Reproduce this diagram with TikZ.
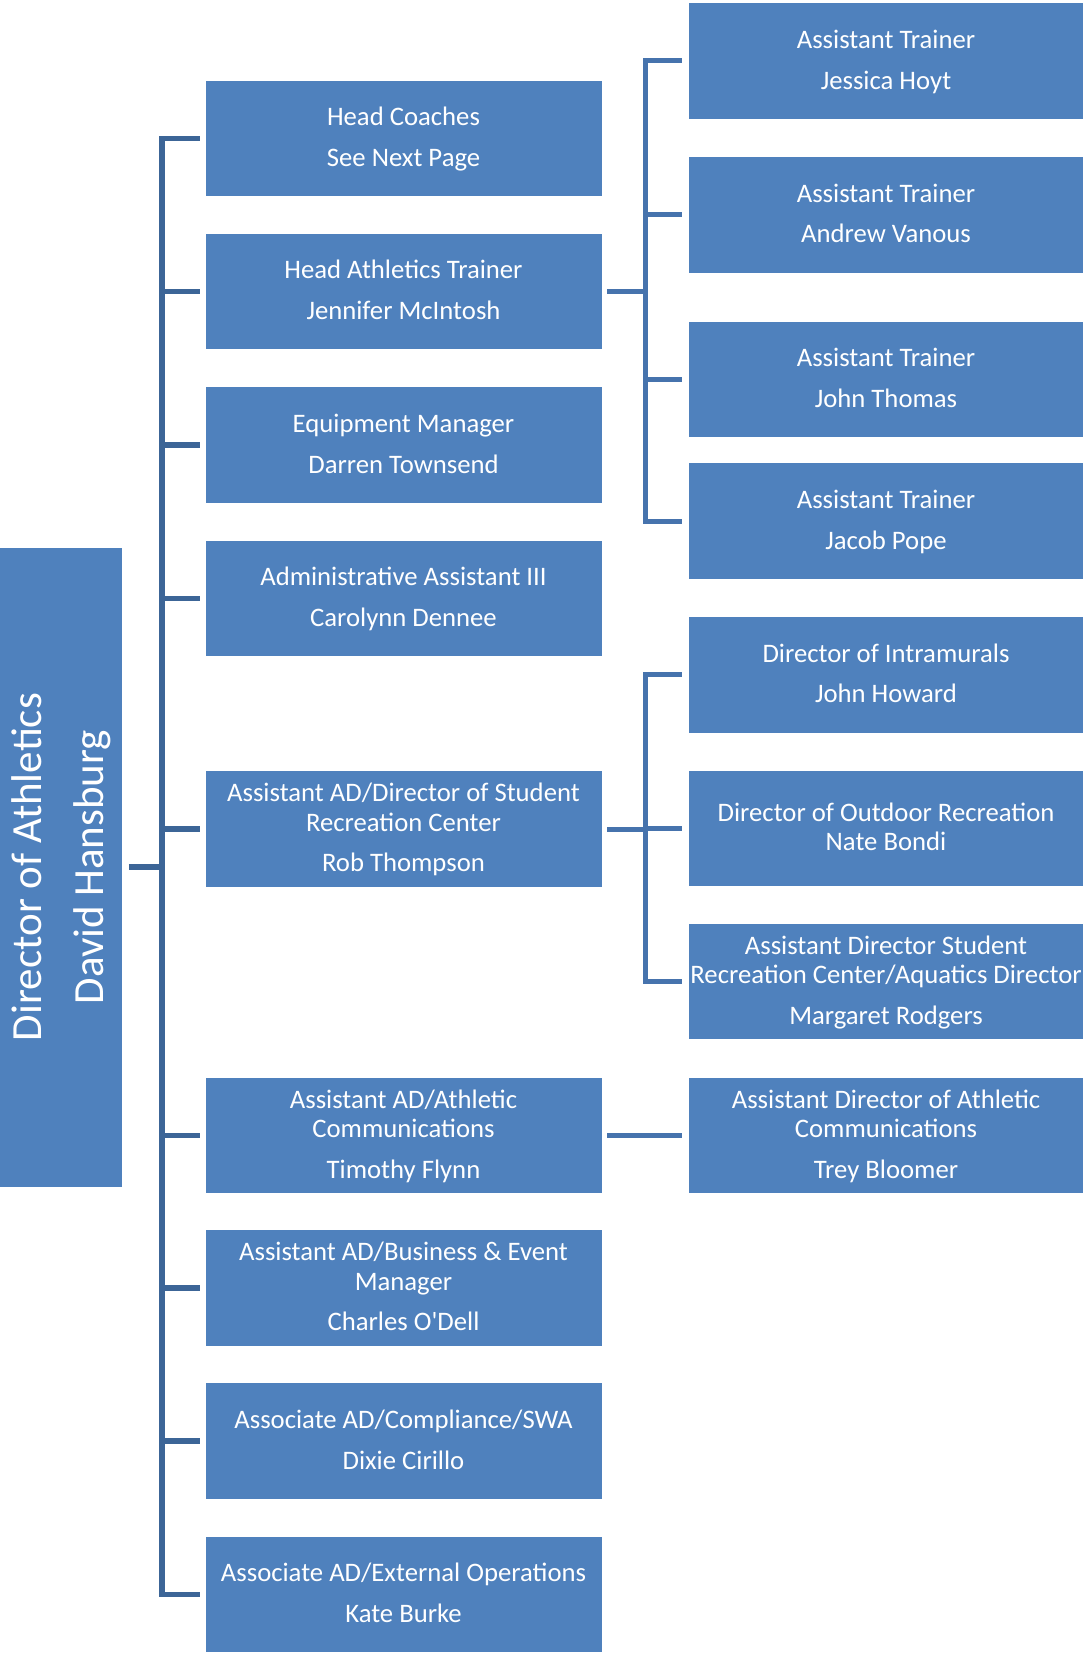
\documentclass[tikz,border=0pt]{standalone}
\usepackage{fontspec}
\setmainfont{Carlito}[Ligatures=TeXOff]
\usepackage{graphicx}
\definecolor{boxblue}{HTML}{4F81BD}
\definecolor{mainln}{HTML}{3C6597}
\definecolor{subln}{HTML}{4673AD}
\newcommand\mystrut{\rule[-4.4pt]{0pt}{24.4pt}}
\newcommand\twoline[2]{\mystrut #1\\[11.4pt]\mystrut #2}
\newcommand\threeline[3]{\mystrut #1\\\mystrut #2\\[11.4pt]\mystrut #3}
\begin{document}
\begin{tikzpicture}[x=1pt,y=-1pt,
  box/.style={rectangle, fill=boxblue, draw=white, line width=0.6pt,
    minimum width=397pt, minimum height=116.5pt, inner sep=0pt,
    align=center, text=white, font=\fontsize{26.7pt}{29.3pt}\selectfont},
  rbox/.style={box, minimum width=396pt},
  mainline/.style={draw=mainln, line width=5.5pt},
  subline/.style={draw=subln, line width=5pt}]
\useasboundingbox (0,0) rectangle (1083,1656);
\fill[white] (0,0) rectangle (1083,1656);

% director
\node[box, minimum width=117pt, minimum height=640pt,
  font=\fontsize{43pt}{62pt}\selectfont] (dir) at (60.5,867)
  {\rotatebox{90}{\begin{tabular}{@{}c@{}}Director of Athletics\\David Hansburg\end{tabular}}};

% column 1
\node[box] (hc)   at (403.5,138.5) {\twoline{Head Coaches}{See Next Page}};
\node[box] (hat)  at (403.5,291.5) {\twoline{Head Athletics Trainer}{Jennifer McIntosh}};
\node[box] (eq)   at (403.5,445)   {\twoline{Equipment Manager}{Darren Townsend}};
\node[box] (adm)  at (403.5,598.5) {\twoline{Administrative Assistant III}{Carolynn Dennee}};
\node[box] (rec)  at (403.5,829)   {\threeline{Assistant AD/Director of Student}{Recreation Center}{Rob Thompson}};
\node[box] (comm) at (403.5,1135.5){\threeline{Assistant AD/Athletic}{Communications}{Timothy Flynn}};
\node[box] (bus)  at (403.5,1288)  {\threeline{Assistant AD/Business \& Event}{Manager}{Charles O'Dell}};
\node[box] (comp) at (403.5,1441)  {\twoline{Associate AD/Compliance/SWA}{Dixie Cirillo}};
\node[box] (ext)  at (403.5,1594.5){\twoline{Associate AD/External Operations}{Kate Burke}};

% column 2
\node[rbox] (jh) at (886,61)    {\twoline{Assistant Trainer}{Jessica Hoyt}};
\node[rbox] (av) at (886,214.8) {\twoline{Assistant Trainer}{Andrew Vanous}};
\node[rbox] (jt) at (886,379.3) {\twoline{Assistant Trainer}{John Thomas}};
\node[rbox] (jp) at (886,521)   {\twoline{Assistant Trainer}{Jacob Pope}};
\node[rbox] (di) at (886,674.7) {\twoline{Director of Intramurals}{John Howard}};
\node[rbox] (or) at (886,828.5) {\mystrut Director of Outdoor Recreation\\\mystrut Nate Bondi};
\node[rbox] (aq) at (886,981.3) {\threeline{Assistant Director Student}{\makebox[396pt][c]{Recreation Center/Aquatics Director}}{Margaret Rodgers}};
\node[rbox] (tb) at (886,1135.5){\threeline{Assistant Director of Athletic}{Communications}{Trey Bloomer}};

% main spine
\coordinate (spine) at (162,867);
\draw[mainline, shorten <=5pt, shorten >=5pt] (hc.west) -| (spine) |- (ext.west);
\foreach \n in {hat,eq,adm,rec,comm,bus,comp}
  \draw[mainline, shorten >=5pt] (spine |- \n.west) -- (\n.west);
\draw[mainline, shorten <=6pt] (dir.east) -- (spine);

% trainers
\coordinate (trs) at (645,291.5);
\draw[subline, shorten <=5pt] (hat.east) -- (trs);
\draw[subline, shorten <=6pt, shorten >=6pt] (jh.west) -| (trs) |- (jp.west);
\foreach \n in {av,jt}
  \draw[subline, shorten >=6pt] (trs |- \n.west) -- (\n.west);

% recreation
\coordinate (rcs) at (645,829);
\draw[subline, shorten <=5pt] (rec.east) -- (rcs);
\draw[subline, shorten <=6pt, shorten >=6pt] (di.west) -| (rcs) |- (aq.west);
\draw[subline, shorten >=6pt] (rcs |- or.west) -- (or.west);

% communications
\draw[subline, shorten <=5pt, shorten >=6pt] (comm.east) -- (tb.west);
\end{tikzpicture}
\end{document}
